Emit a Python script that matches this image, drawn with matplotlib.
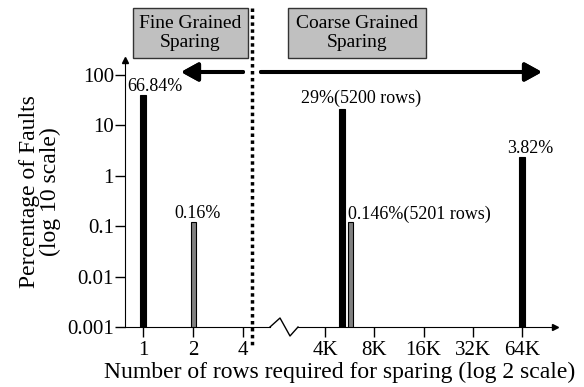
import matplotlib
matplotlib.use("Agg")
import matplotlib.pyplot as plt
from matplotlib.lines import Line2D
from matplotlib.patches import Rectangle

plt.rcParams["font.family"] = ["Liberation Serif", "DejaVu Serif"]

# ---------------------------------------------------------------------------
# Data
# ---------------------------------------------------------------------------
fine_rows = [1, 2]
fine_pct = [40, 0.12]
fine_labels = ["66.84%", "0.16%"]
fine_colors = ["black", "#808080"]

coarse_rows = [5200, 5870, 65536]
coarse_pct = [21, 0.12, 2.4]
coarse_labels = ["29%(5200 rows)", "0.146%(5201 rows)", "3.82%"]
coarse_colors = ["black", "#808080", "black"]

fine_ticks = [1, 2, 4]
fine_ticklabels = ["1", "2", "4"]
coarse_ticks = [4096, 8192, 16384, 32768, 65536]
coarse_ticklabels = ["4K", "8K", "16K", "32K", "64K"]
y_ticks = [0.001, 0.01, 0.1, 1, 10, 100]
y_ticklabels = ["0.001", "0.01", "0.1", "1", "10", "100"]

# label offsets (points) relative to bar top
fine_offsets = [(-11, 6), (3, 6)]
coarse_offsets = [(14, 8), (-2, 6), (6, 6)]
fine_ha = ["left", "center"]
coarse_ha = ["center", "left", "center"]

W, H = 584, 387
fig = plt.figure(figsize=(W / 100, H / 100), dpi=100)


def fx(x):
    return x / W


def fy(y):
    return 1 - y / H


YMIN, YMAX = 1e-3, 100 * 10 ** (15 / 50.4)

ax_l = fig.add_axes([fx(125), fy(327), fx(270) - fx(125), fy(60) - fy(327)])
ax_r = fig.add_axes([fx(298), fy(327), fx(555) - fx(298), fy(60) - fy(327)])

ax_l.set_xscale("log", base=2)
ax_r.set_xscale("log", base=2)
ax_l.set_yscale("log")
ax_r.set_yscale("log")
ax_l.set_ylim(YMIN, YMAX)
ax_r.set_ylim(YMIN, YMAX)
ax_l.set_xlim(2 ** (-18 / 50), 2 ** (127 / 50))
ax_r.set_xlim(4096 * 2 ** (-27 / 49.25), 4096 * 2 ** (230 / 49.25))


def draw_bars(ax, xs, hs, cols, px_per_doubling):
    for x, h, c in zip(xs, hs, cols):
        half = 3.0 if c == "black" else 2.5
        d = half / px_per_doubling
        ax.bar(x * 2 ** -d, h - YMIN, width=x * (2 ** d - 2 ** -d), bottom=YMIN,
               align="edge", color=c, edgecolor="black" if c != "black" else c,
               linewidth=0.8, zorder=3)


draw_bars(ax_l, fine_rows, fine_pct, fine_colors, 50)
draw_bars(ax_r, coarse_rows, coarse_pct, coarse_colors, 49.25)

for x, h, lbl, off, ha in zip(fine_rows, fine_pct, fine_labels, fine_offsets, fine_ha):
    ax_l.annotate(lbl, (x, h), xytext=off, textcoords="offset points",
                  ha=ha, va="center", fontsize=13, annotation_clip=False)
for x, h, lbl, off, ha in zip(coarse_rows, coarse_pct, coarse_labels, coarse_offsets, coarse_ha):
    ax_r.annotate(lbl, (x, h), xytext=off, textcoords="offset points",
                  ha=ha, va="center", fontsize=13, annotation_clip=False)

# axes styling
for ax in (ax_l, ax_r):
    ax.patch.set_visible(False)
    ax.spines["top"].set_visible(False)
    ax.spines["right"].set_visible(False)
    ax.minorticks_off()
    ax.tick_params(axis="x", direction="out", length=7, width=1, pad=3, labelsize=15)
ax_r.spines["left"].set_visible(False)
ax_r.set_yticks([])
ax_l.set_yticks(y_ticks)
ax_l.set_yticklabels(y_ticklabels)
ax_l.tick_params(axis="y", direction="out", length=7, width=1, pad=1, labelsize=15)
ax_l.set_xticks(fine_ticks)
ax_l.set_xticklabels(fine_ticklabels)
ax_r.set_xticks(coarse_ticks)
ax_r.set_xticklabels(coarse_ticklabels)
ax_l.minorticks_off()
ax_r.minorticks_off()

# axis arrow heads
ax_l.plot(0, 1, "^k", markersize=5, transform=ax_l.transAxes, clip_on=False)
ax_r.plot(1, 0, ">k", markersize=5, transform=ax_r.transAxes, clip_on=False)

# broken-axis zigzag
zz_x = [270, 280, 290, 298]
zz_y = [327, 318, 336, 327]
fig.add_artist(Line2D([fx(v) for v in zz_x], [fy(v) for v in zz_y],
                      color="black", linewidth=1, transform=fig.transFigure))

# dotted separator
fig.add_artist(Line2D([fx(252), fx(252)], [fy(8), fy(347)], color="black",
                      linewidth=2.5, linestyle=(0, (1, 1)), transform=fig.transFigure))

# region boxes
for x0, x1, txt in [(133, 248, "Fine Grained\nSparing"), (288, 426, "Coarse Grained\nSparing")]:
    fig.add_artist(Rectangle((fx(x0), fy(58)), fx(x1) - fx(x0), fy(8) - fy(58),
                             facecolor="#c0c0c0", edgecolor="#333333", linewidth=1,
                             transform=fig.transFigure))
    fig.text(fx((x0 + x1) / 2), fy(33), txt, ha="center", va="center",
             fontsize=14, linespacing=1.15)

# region arrows
arrow_kw = dict(arrowstyle="-|>,head_length=10,head_width=5.5", mutation_scale=1,
                color="black", linewidth=2.9, shrinkA=0, shrinkB=0)
fig.add_artist(plt.annotate("", xy=(fx(181), fy(72)), xytext=(fx(243), fy(72)),
                            xycoords="figure fraction", arrowprops=arrow_kw))
fig.add_artist(plt.annotate("", xy=(fx(542), fy(72)), xytext=(fx(261), fy(72)),
                            xycoords="figure fraction", arrowprops=arrow_kw))

fig.text(fx(40), fy(192), "Percentage of Faults\n(log 10 scale)", rotation=90,
         ha="center", va="center", fontsize=17, linespacing=1.0)
fig.text(fx(340), fy(372), "Number of rows required for sparing (log 2 scale)",
         ha="center", va="center", fontsize=17)

fig.savefig("out.png", dpi=100)
